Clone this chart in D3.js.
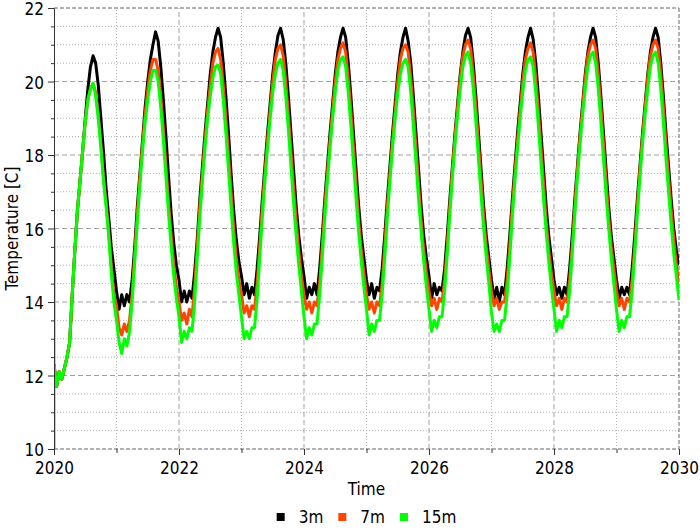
<!DOCTYPE html>
<html>
<head>
<meta charset="utf-8">
<script src="https://cdn.jsdelivr.net/npm/d3@7"></script>
<style>
body { margin: 0; background: #fff; }
svg text { font-family: "DejaVu Sans Condensed", "DejaVu Sans", sans-serif; font-stretch: condensed; fill: #000; }
</style>
</head>
<body>
<div id="viz"></div>
<script>
width = 700;
height = 530;
margin = {left: 54, right: 21, top: 8, bottom: 81};

// sampling grid: twice a month starting 2020
startYear = 2020;
samplesPerYear = 24;

seriesNames = ["3m", "7m", "15m"];
seriesColors = ["#000000", "#ff4500", "#00ff00"];

yMajor = [10, 12, 14, 16, 18, 20, 22];
xMajor = [2020, 2022, 2024, 2026, 2028, 2030];
xMinor = [2021, 2023, 2025, 2027, 2029];

// green spike at the very first time step
startSpike = [10, 16];

temp3m = [
  12.3, 11.7, 12.1, 11.9, 12.2, 12.5, 12.9, 14.2, 15.4, 16.5, 17.3, 18.1, 19.0, 19.8, 20.4, 20.7, 20.5, 19.9, 19.0, 18.1, 17.1, 16.3, 15.5, 14.9,
  14.3, 13.8, 14.2, 13.9, 14.2, 14.0, 14.6, 15.5, 16.6, 17.5, 18.4, 19.3, 20.0, 20.6, 21.0, 21.35, 21.1, 20.4, 19.5, 18.5, 17.4, 16.4, 15.6, 15.0,
  14.6, 14.0, 14.3, 14.0, 14.3, 14.1, 14.8, 15.7, 16.8, 17.7, 18.6, 19.4, 20.2, 20.8, 21.2, 21.45, 21.2, 20.5, 19.6, 18.6, 17.5, 16.5, 15.7, 15.1,
  14.7, 14.2, 14.5, 14.1, 14.4, 14.2, 14.9, 15.8, 16.8, 17.7, 18.6, 19.4, 20.2, 20.8, 21.25, 21.45, 21.15, 20.5, 19.6, 18.6, 17.6, 16.6, 15.8, 15.2,
  14.7, 14.1, 14.4, 14.2, 14.5, 14.2, 14.9, 15.8, 16.8, 17.7, 18.6, 19.4, 20.2, 20.8, 21.2, 21.45, 21.2, 20.5, 19.6, 18.6, 17.6, 16.6, 15.8, 15.2,
  14.6, 14.2, 14.5, 14.1, 14.4, 14.3, 14.9, 15.8, 16.8, 17.7, 18.6, 19.4, 20.2, 20.8, 21.2, 21.45, 21.1, 20.5, 19.6, 18.6, 17.6, 16.6, 15.8, 15.2,
  14.7, 14.1, 14.5, 14.2, 14.4, 14.3, 14.9, 15.8, 16.8, 17.7, 18.6, 19.4, 20.2, 20.8, 21.25, 21.45, 21.2, 20.5, 19.6, 18.6, 17.6, 16.6, 15.8, 15.2,
  14.6, 14.1, 14.4, 14.0, 14.4, 14.2, 14.9, 15.8, 16.8, 17.7, 18.6, 19.4, 20.2, 20.8, 21.2, 21.45, 21.15, 20.5, 19.6, 18.6, 17.6, 16.6, 15.8, 15.2,
  14.6, 14.2, 14.4, 14.1, 14.4, 14.2, 14.9, 15.8, 16.8, 17.7, 18.6, 19.4, 20.2, 20.8, 21.2, 21.45, 21.2, 20.5, 19.6, 18.6, 17.6, 16.6, 15.8, 15.2,
  14.6, 14.1, 14.4, 14.2, 14.4, 14.2, 14.9, 15.8, 16.8, 17.7, 18.6, 19.4, 20.2, 20.8, 21.2, 21.45, 21.2, 20.5, 19.6, 18.6, 17.7, 16.8, 16.0, 15.4,
  15.0
];

temp7m = [
  12.3, 11.7, 12.1, 11.9, 12.2, 12.5, 12.9, 14.2, 15.4, 16.5, 17.3, 18.1, 18.9, 19.5, 19.8, 19.95, 19.7, 19.1, 18.3, 17.4, 16.7, 15.9, 15.0, 14.2,
  13.9, 13.3, 13.1, 13.4, 13.2, 13.5, 14.2, 15.3, 16.4, 17.4, 18.3, 19.1, 19.8, 20.3, 20.6, 20.6, 20.3, 19.6, 18.7, 17.7, 16.7, 15.8, 15.0, 14.4,
  14.0, 13.5, 13.7, 13.4, 13.8, 13.6, 14.4, 15.5, 16.6, 17.5, 18.4, 19.2, 19.9, 20.5, 20.8, 20.9, 20.6, 19.9, 19.0, 18.0, 17.0, 16.0, 15.2, 14.6,
  14.2, 13.7, 13.9, 13.6, 13.9, 13.8, 14.5, 15.5, 16.6, 17.5, 18.4, 19.2, 20.0, 20.6, 20.9, 21.0, 20.7, 20.0, 19.1, 18.1, 17.1, 16.2, 15.4, 14.7,
  14.2, 13.8, 14.0, 13.7, 14.0, 13.9, 14.5, 15.5, 16.6, 17.5, 18.4, 19.2, 20.0, 20.6, 20.9, 21.05, 20.8, 20.1, 19.2, 18.2, 17.2, 16.2, 15.4, 14.8,
  14.2, 13.8, 14.0, 13.7, 14.0, 13.9, 14.5, 15.5, 16.6, 17.5, 18.4, 19.2, 20.0, 20.6, 20.9, 21.0, 20.8, 20.1, 19.2, 18.2, 17.2, 16.2, 15.4, 14.8,
  14.3, 13.9, 14.1, 13.8, 14.1, 14.0, 14.6, 15.5, 16.6, 17.6, 18.5, 19.3, 20.1, 20.7, 21.0, 21.13, 20.9, 20.2, 19.3, 18.3, 17.3, 16.3, 15.5, 14.9,
  14.3, 13.9, 14.1, 13.8, 14.0, 14.0, 14.6, 15.5, 16.6, 17.5, 18.4, 19.2, 20.0, 20.6, 20.9, 21.05, 20.8, 20.1, 19.2, 18.2, 17.2, 16.2, 15.4, 14.8,
  14.3, 13.9, 14.1, 13.8, 14.1, 14.0, 14.6, 15.5, 16.6, 17.6, 18.5, 19.3, 20.1, 20.7, 21.0, 21.13, 20.9, 20.2, 19.3, 18.3, 17.3, 16.3, 15.5, 14.9,
  14.3, 13.9, 14.1, 13.8, 14.1, 14.0, 14.6, 15.5, 16.6, 17.6, 18.5, 19.3, 20.1, 20.7, 21.0, 21.13, 20.9, 20.2, 19.3, 18.3, 17.4, 16.5, 15.7, 15.0,
  14.5
];

temp15m = [
  12.3, 11.7, 12.1, 11.9, 12.2, 12.5, 12.9, 14.2, 15.4, 16.5, 17.3, 18.1, 18.9, 19.5, 19.8, 19.95, 19.6, 19.0, 18.2, 17.3, 16.6, 15.8, 14.8, 14.0,
  13.5, 12.9, 12.6, 13.0, 12.8, 13.2, 14.0, 15.1, 16.2, 17.2, 18.1, 18.9, 19.5, 20.0, 20.3, 20.3, 20.0, 19.3, 18.4, 17.4, 16.4, 15.5, 14.7, 14.1,
  13.6, 12.9, 13.2, 13.0, 13.3, 13.2, 14.0, 15.2, 16.3, 17.3, 18.2, 19.0, 19.6, 20.1, 20.4, 20.45, 20.2, 19.5, 18.6, 17.6, 16.6, 15.6, 14.8, 14.2,
  13.6, 13.0, 13.2, 13.0, 13.3, 13.3, 14.1, 15.2, 16.3, 17.3, 18.2, 19.0, 19.7, 20.2, 20.5, 20.6, 20.3, 19.6, 18.7, 17.7, 16.7, 15.8, 15.0, 14.3,
  13.6, 13.0, 13.3, 13.1, 13.4, 13.4, 14.2, 15.2, 16.3, 17.3, 18.2, 19.0, 19.7, 20.3, 20.6, 20.67, 20.4, 19.7, 18.8, 17.8, 16.8, 15.9, 15.1, 14.4,
  13.8, 13.1, 13.4, 13.2, 13.5, 13.5, 14.2, 15.2, 16.3, 17.3, 18.2, 19.0, 19.7, 20.2, 20.5, 20.6, 20.4, 19.7, 18.8, 17.8, 16.8, 15.9, 15.1, 14.4,
  13.8, 13.2, 13.5, 13.3, 13.6, 13.6, 14.3, 15.3, 16.4, 17.4, 18.3, 19.1, 19.8, 20.4, 20.7, 20.8, 20.5, 19.8, 18.9, 17.9, 16.9, 16.0, 15.2, 14.5,
  13.7, 13.2, 13.4, 13.2, 13.5, 13.5, 14.2, 15.2, 16.3, 17.3, 18.2, 19.0, 19.7, 20.3, 20.6, 20.67, 20.4, 19.7, 18.8, 17.8, 16.8, 15.9, 15.1, 14.4,
  13.8, 13.2, 13.5, 13.3, 13.6, 13.6, 14.3, 15.3, 16.4, 17.4, 18.3, 19.1, 19.8, 20.4, 20.7, 20.8, 20.5, 19.8, 18.9, 17.9, 16.9, 16.0, 15.2, 14.5,
  13.8, 13.2, 13.5, 13.3, 13.6, 13.6, 14.3, 15.3, 16.4, 17.4, 18.3, 19.1, 19.8, 20.4, 20.7, 20.8, 20.5, 19.8, 18.9, 17.9, 17.0, 16.1, 15.3, 14.7,
  14.05
];

allSeries = [temp3m, temp7m, temp15m];

svg = d3.select("#viz").append("svg")
  .attr("width", width)
  .attr("height", height);

x = d3.scaleLinear()
  .domain([2020, 2030])
  .range([margin.left, width - margin.right]);

y = d3.scaleLinear()
  .domain([10, 22])
  .range([height - margin.bottom, margin.top]);

x0 = margin.left; x1 = width - margin.right;
y0 = height - margin.bottom; y1 = margin.top;

yMinor = d3.range(10.5, 22, 0.5).filter(function(v) { return v % 2 != 0; });

// minor grid (dotted)
grid = svg.append("g");
grid.selectAll(".ymin").data(yMinor)
  .enter().append("line")
  .attr("x1", x0).attr("x2", x1)
  .attr("y1", function(d) { return y(d); }).attr("y2", function(d) { return y(d); })
  .attr("stroke", "#b4b4b4").attr("stroke-dasharray", "1,2");

grid.selectAll(".xmin").data(xMinor).enter().append("line")
  .attr("y1", y0).attr("y2", y1)
  .attr("x1", function(d) { return x(d); }).attr("x2", function(d) { return x(d); })
  .attr("stroke", "#b4b4b4").attr("stroke-dasharray", "1,2");

// major grid (dashed)
grid.selectAll(".ymaj").data(yMajor.slice(1, -1)).enter().append("line")
  .attr("x1", x0).attr("x2", x1)
  .attr("y1", function(d) { return y(d); }).attr("y2", function(d) { return y(d); })
  .attr("stroke", "#a0a0a0").attr("stroke-dasharray", "5,3");

grid.selectAll(".xmaj").data(xMajor.slice(1, -1)).enter().append("line")
  .attr("y1", y0).attr("y2", y1)
  .attr("x1", function(d) { return x(d); }).attr("x2", function(d) { return x(d); })
  .attr("stroke", "#a0a0a0").attr("stroke-dasharray", "5,3");

// frame: top, right, bottom dashed darker
frame = [[x0, y1, x1, y1], [x1, y1, x1, y0], [x0, y0, x1, y0]];
svg.append("g").selectAll("line").data(frame).enter().append("line")
  .attr("x1", function(d) { return d[0]; }).attr("y1", function(d) { return d[1]; })
  .attr("x2", function(d) { return d[2]; }).attr("y2", function(d) { return d[3]; })
  .attr("stroke", "#666").attr("stroke-dasharray", "4,2");

// series
svg.append("clipPath").attr("id", "plotclip").append("rect")
  .attr("x", x0).attr("y", y1).attr("width", x1 - x0).attr("height", y0 - y1);

line = d3.line()
  .x(function(d, i) { return x(startYear + i / samplesPerYear); })
  .y(function(d) { return y(d); });

plot = svg.append("g").attr("clip-path", "url(#plotclip)");

plot.append("line")
  .attr("x1", x(startYear)).attr("x2", x(startYear))
  .attr("y1", y(startSpike[0])).attr("y2", y(startSpike[1]))
  .attr("stroke", seriesColors[2]).attr("stroke-width", 3);

plot.selectAll("path.series").data(allSeries).enter().append("path")
  .attr("class", "series")
  .attr("d", line)
  .attr("fill", "none")
  .attr("stroke", function(d, i) { return seriesColors[i]; })
  .attr("stroke-width", 3)
  .attr("stroke-linejoin", "round");

// axes
yAxis = svg.append("g")
  .attr("transform", "translate(" + x0 + ",0)")
  .style("font-size", "17px")
  .call(d3.axisLeft(y).tickValues(yMajor).tickSize(6).tickPadding(4).tickFormat(d3.format("d")));
yAxis.selectAll(".tick text").attr("dy", "0.4em");

svg.append("g")
  .attr("transform", "translate(" + x0 + ",0)")
  .call(d3.axisLeft(y).tickValues(yMinor).tickSize(3).tickFormat(""))
  .select(".domain").remove();

xAxis = svg.append("g")
  .attr("transform", "translate(0," + y0 + ")")
  .style("font-size", "17px")
  .call(d3.axisBottom(x).tickValues(xMajor).tickSize(6).tickPadding(7).tickFormat(d3.format("d")));
xAxis.select(".domain").remove();

svg.append("g")
  .attr("transform", "translate(0," + y0 + ")")
  .call(d3.axisBottom(x).tickValues(xMinor).tickSize(4).tickFormat(""))
  .select(".domain").remove();

svg.selectAll(".tick line").attr("stroke", "#333");
yAxis.select(".domain").attr("stroke", "#333");
svg.selectAll(".tick text").attr("font-family", null);

// axis titles
svg.append("text")
  .attr("transform", "rotate(-90)")
  .attr("x", -(y0 + y1) / 2)
  .attr("y", 18)
  .attr("text-anchor", "middle")
  .style("font-size", "17px")
  .text("Temperature [C]");

svg.append("text")
  .attr("x", (x0 + x1) / 2)
  .attr("y", 495)
  .attr("text-anchor", "middle")
  .style("font-size", "17px")
  .text("Time");

// legend
legend = svg.append("g");
items = legend.selectAll("g").data(seriesNames).enter().append("g");
items.append("rect")
  .attr("width", 8).attr("height", 8)
  .attr("y", 513)
  .attr("fill", function(d, i) { return seriesColors[i]; });
items.append("text")
  .attr("x", 22).attr("y", 523)
  .style("font-size", "17px")
  .text(function(d) { return d; });

offsets = [];
pos = 0;
items.each(function(d, i) {
  offsets.push(pos);
  pos += 22 + this.querySelector("text").getComputedTextLength() + 15;
});
total = pos - 15;
items.attr("transform", function(d, i) { return "translate(" + ((x0 + x1) / 2 - total / 2 + offsets[i]) + ",0)"; });
</script>
</body>
</html>
